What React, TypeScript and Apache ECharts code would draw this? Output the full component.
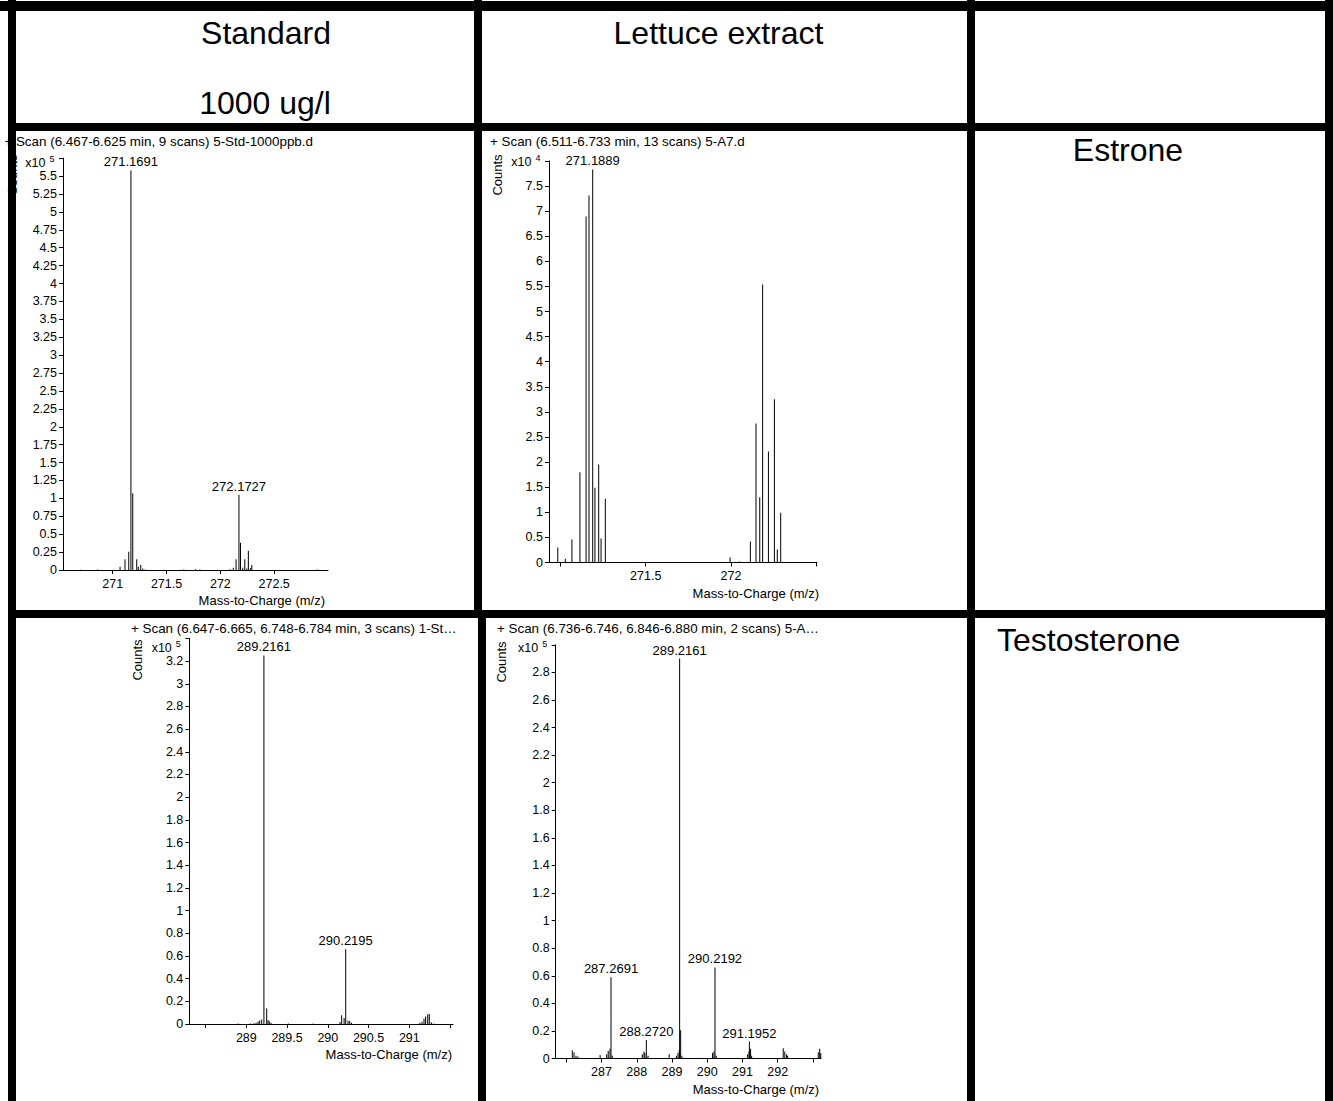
import React, { useEffect, useRef } from "react";
import * as echarts from "echarts";

const FONT = '"Liberation Sans", Arial, Helvetica, sans-serif';

// ---------- Data ----------
// Estrone, standard 1000 ug/l (counts x10^5)
const estStdMz = [270.70, 270.86, 271.068, 271.114, 271.149, 271.1691, 271.186, 271.223, 271.238, 271.26, 271.279, 271.30, 271.66, 271.77, 271.81, 272.09, 272.12, 272.146, 272.1727, 272.187, 272.208, 272.227, 272.245, 272.26, 272.28, 272.292, 272.90];
const estStdInt = [0.005, 0.008, 0.045, 0.15, 0.255, 5.58, 1.07, 0.15, 0.045, 0.07, 0.02, 0.008, 0.008, 0.01, 0.006, 0.012, 0.03, 0.15, 1.05, 0.38, 0.03, 0.15, 0.02, 0.27, 0.025, 0.07, 0.008];
const estStdLabeled = ["271.1691", "272.1727"];

// Estrone, lettuce extract (counts x10^4)
const estLetMz = [270.984, 271.028, 271.067, 271.114, 271.150, 271.167, 271.1889, 271.202, 271.224, 271.238, 271.263, 271.314, 271.662, 271.756, 271.995, 272.049, 272.114, 272.147, 272.169, 272.186, 272.22, 272.255, 272.272, 272.292];
const estLetInt = [0.30, 0.075, 0.46, 1.80, 6.89, 7.31, 7.83, 1.49, 1.95, 0.48, 1.27, 0.01, 0.01, 0.01, 0.10, 0.02, 0.42, 2.77, 1.30, 5.54, 2.21, 3.25, 0.26, 0.99];
const estLetLabeled = ["271.1889"];

// Testosterone, standard (counts x10^5)
const tesStdMz = [288.90, 289.05, 289.094, 289.12, 289.144, 289.164, 289.189, 289.2161, 289.25, 289.266, 289.282, 289.303, 289.515, 289.82, 290.15, 290.17, 290.2, 290.2195, 290.248, 290.269, 290.29, 291.13, 291.156, 291.18, 291.2, 291.226, 291.245, 291.27, 291.3];
const tesStdInt = [0.005, 0.004, 0.006, 0.012, 0.023, 0.03, 0.04, 3.25, 0.137, 0.035, 0.025, 0.01, 0.005, 0.005, 0.018, 0.078, 0.053, 0.66, 0.031, 0.027, 0.01, 0.01, 0.02, 0.047, 0.067, 0.085, 0.088, 0.015, 0.005];
const tesStdLabeled = ["289.2161", "290.2195"];

// Testosterone, lettuce extract (counts x10^5)
const tesLetMz = [286.171, 286.22, 286.276, 286.33, 286.96, 287.147, 287.19, 287.24, 287.2691, 287.306, 288.157, 288.205, 288.23, 288.2720, 288.32, 288.92, 289.13, 289.17, 289.205, 289.2161, 289.245, 289.28, 290.15, 290.19, 290.2192, 290.255, 291.147, 291.184, 291.1952, 291.23, 291.26, 292.156, 292.2, 292.25, 292.28, 293.15, 293.19, 293.22];
const tesLetInt = [0.06, 0.045, 0.02, 0.015, 0.025, 0.03, 0.055, 0.07, 0.59, 0.02, 0.03, 0.05, 0.04, 0.135, 0.02, 0.03, 0.02, 0.04, 0.06, 2.90, 0.205, 0.02, 0.04, 0.05, 0.66, 0.02, 0.03, 0.05, 0.123, 0.07, 0.02, 0.075, 0.05, 0.03, 0.02, 0.045, 0.07, 0.04];
const tesLetLabeled = ["287.2691", "288.2720", "289.2161", "290.2192", "291.1952"];

// Tick values
const estStdXTicks = [271, 271.5, 272, 272.5];
const estStdXLabels = [271, 271.5, 272, 272.5];
const estLetXTicks = [271, 271.5, 272, 272.5];
const estLetXLabels = [271.5, 272];
const tesStdXTicks = [288.5, 289, 289.5, 290, 290.5, 291, 291.5];
const tesStdXLabels = [289, 289.5, 290, 290.5, 291];
const tesLetXTicks = [286, 287, 288, 289, 290, 291, 292, 293];
const tesLetXLabels = [287, 288, 289, 290, 291, 292];

// Texts
const headerTexts = ["Standard", "1000 ug/l", "Lettuce extract"];
const rowTexts = ["Estrone", "Testosterone"];
const xAxisName = "Mass-to-Charge (m/z)";
const scanTitles = [
  "+ Scan (6.467-6.625 min, 9 scans) 5-Std-1000ppb.d",
  "+ Scan (6.511-6.733 min, 13 scans) 5-A7.d",
  "+ Scan (6.647-6.665, 6.748-6.784 min, 3 scans) 1-St…",
  "+ Scan (6.736-6.746, 6.846-6.880 min, 2 scans) 5-A…",
];

// ---------- Layout ----------
const panels = [
  { mz: estStdMz, inten: estStdInt, labeled: estStdLabeled, xTicks: estStdXTicks, xLabels: estStdXLabels, xMin: 270.538, xMax: 273.0, yMax: 5.75, yInt: 0.25, exp: "5", grid: { left: 63, top: 158.2, width: 265, height: 411.8 }, nameGap: -3, expY: 162.5, title: { x: 4.4, y: 141 }, counts: { x: 12, y: 175 } },
  { mz: estLetMz, inten: estLetInt, labeled: estLetLabeled, xTicks: estLetXTicks, xLabels: estLetXLabels, xMin: 270.9325, xMax: 272.505, yMax: 8, yInt: 0.5, exp: "4", grid: { left: 549, top: 160.9, width: 268, height: 401.6 }, nameGap: 2, expY: 162.3, title: { x: 490, y: 141 }, counts: { x: 497, y: 175 } },
  { mz: tesStdMz, inten: tesStdInt, labeled: tesStdLabeled, xTicks: tesStdXTicks, xLabels: tesStdXLabels, xMin: 288.3006, xMax: 291.536, yMax: 3.4, yInt: 0.2, exp: "5", grid: { left: 189.3, top: 638.4, width: 263.7, height: 385.6 }, nameGap: -1, expY: 648, title: { x: 131, y: 628 }, counts: { x: 137, y: 660 } },
  { mz: tesLetMz, inten: tesLetInt, labeled: tesLetLabeled, xTicks: tesLetXTicks, xLabels: tesLetXLabels, xMin: 285.7, xMax: 293.23, yMax: 3.0, yInt: 0.2, exp: "5", grid: { left: 555.7, top: 644.8, width: 265.4, height: 413.7 }, nameGap: -2, expY: 648.3, title: { x: 497, y: 628 }, counts: { x: 501, y: 662 } },
];

const borders = [
  { x: 0, y: 1, w: 1333, h: 10 },
  { x: 8, y: 0, w: 8, h: 1101 },
  { x: 1325, y: 0, w: 8, h: 1101 },
  { x: 8, y: 123, w: 1325, h: 8 },
  { x: 8, y: 610, w: 1325, h: 8 },
  { x: 474, y: 0, w: 8, h: 618 },
  { x: 478, y: 610, w: 8, h: 491 },
  { x: 967, y: 0, w: 8, h: 1101 },
];

function fmt(v: number) {
  return String(+v.toFixed(4));
}

export default function App() {
  const ref = useRef<HTMLDivElement>(null);
  useEffect(() => {
    if (!ref.current) return;
    const chart = echarts.init(ref.current, undefined, { renderer: "svg" });
    const grids: any[] = [];
    const xAxes: any[] = [];
    const yAxes: any[] = [];
    const series: any[] = [];
    const graphic: any[] = [];
    const small = `13px ${FONT}`;
    const titleFont = `13.4px ${FONT}`;

    panels.forEach((p, i) => {
      grids.push({ ...p.grid });
      xAxes.push({
        type: "value",
        gridIndex: i,
        min: p.xMin,
        max: p.xMax,
        axisLine: { show: true, onZero: false, lineStyle: { color: "#000", width: 1 } },
        axisTick: { show: true, customValues: p.xTicks, length: 4, lineStyle: { color: "#000" } },
        axisLabel: { customValues: p.xLabels, formatter: (v: number) => fmt(v), color: "#000", fontSize: 12.5, fontFamily: FONT, margin: 7 },
        splitLine: { show: false },
      });
      yAxes.push({
        type: "value",
        gridIndex: i,
        min: 0,
        max: p.yMax,
        interval: p.yInt,
        axisLine: { show: true, lineStyle: { color: "#000", width: 1 } },
        axisTick: { show: true, length: 4, lineStyle: { color: "#000" } },
        axisLabel: {
          margin: 6,
          color: "#000",
          fontSize: 12.5,
          fontFamily: FONT,
          formatter: (v: number) => (Math.abs(v - p.yMax) < 1e-9 ? "" : fmt(v)),
        },
        splitLine: { show: false },
      });
      series.push({
        type: "bar",
        xAxisIndex: i,
        yAxisIndex: i,
        barWidth: 1,
        itemStyle: { color: "#000" },
        label: { show: false },
        data: p.mz.map((m, j) => {
          const lab = p.labeled.indexOf(m.toFixed(4)) >= 0;
          return {
            value: [m, p.inten[j]],
            label: lab
              ? { show: true, position: "top", distance: 2, formatter: m.toFixed(4), color: "#000", fontSize: 13, fontFamily: FONT }
              : { show: false },
          };
        }),
      });
      // scan title
      graphic.push({
        type: "text", x: p.title.x, y: p.title.y, z: 50,
        style: { text: scanTitles[i], fill: "#000", font: titleFont, align: "left", verticalAlign: "middle" },
      });
      // y axis title
      graphic.push({
        type: "text", x: p.counts.x, y: p.counts.y, rotation: Math.PI / 2, z: 50,
        style: { text: "Counts", fill: "#000", font: small, align: "center", verticalAlign: "middle" },
      });
      // exponent "x10^n"
      graphic.push({
        type: "text", x: p.grid.left - 17.5, y: p.expY, z: 50,
        style: { text: "x10", fill: "#000", font: `12.5px ${FONT}`, align: "right", verticalAlign: "middle" },
      });
      graphic.push({
        type: "text", x: p.grid.left - 11, y: p.expY - 4, z: 50,
        style: { text: p.exp, fill: "#000", font: `9px ${FONT}`, align: "center", verticalAlign: "middle" },
      });
      // x axis title
      graphic.push({
        type: "text", x: p.grid.left + p.grid.width + p.nameGap, y: p.grid.top + p.grid.height + 30.5, z: 50,
        style: { text: xAxisName, fill: "#000", font: small, align: "right", verticalAlign: "middle" },
      });
    });

    const big = `32px ${FONT}`;
    graphic.push({ type: "text", x: 266, y: 33, z: 50, style: { text: headerTexts[0], fill: "#000", font: big, align: "center", verticalAlign: "middle" } });
    graphic.push({ type: "text", x: 265, y: 103, z: 50, style: { text: headerTexts[1], fill: "#000", font: big, align: "center", verticalAlign: "middle" } });
    graphic.push({ type: "text", x: 718.5, y: 33, z: 50, style: { text: headerTexts[2], fill: "#000", font: big, align: "center", verticalAlign: "middle" } });
    graphic.push({ type: "text", x: 1128, y: 150, z: 50, style: { text: rowTexts[0], fill: "#000", font: big, align: "center", verticalAlign: "middle" } });
    graphic.push({ type: "text", x: 997, y: 640, z: 50, style: { text: rowTexts[1], fill: "#000", font: big, align: "left", verticalAlign: "middle" } });

    borders.forEach((b) => {
      graphic.push({ type: "rect", z: 100, shape: { x: b.x, y: b.y, width: b.w, height: b.h }, style: { fill: "#000" } });
    });

    chart.setOption({
      animation: false,
      backgroundColor: "#fff",
      grid: grids,
      xAxis: xAxes,
      yAxis: yAxes,
      series,
      graphic: { elements: graphic },
    });
    return () => chart.dispose();
  }, []);
  return (
    <div
      ref={ref}
      style={{ position: "absolute", left: 0, top: 0, width: 1333, height: 1101, background: "#fff" }}
    />
  );
}
